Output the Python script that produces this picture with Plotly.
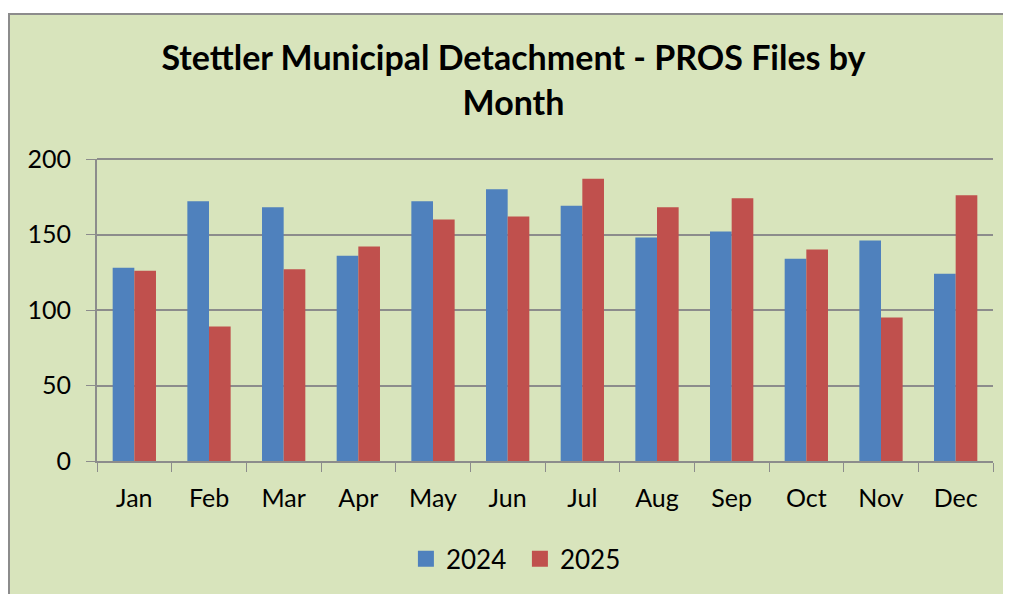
import plotly.graph_objects as go

# Monthly PROS files
MONTHS = ["Jan", "Feb", "Mar", "Apr", "May", "Jun",
          "Jul", "Aug", "Sep", "Oct", "Nov", "Dec"]
FILES_2024 = [128, 172, 168, 136, 172, 180, 169, 148, 152, 134, 146, 124]
FILES_2025 = [126, 89, 127, 142, 160, 162, 187, 168, 174, 140, 95, 176]
Y_TICKS = [0, 50, 100, 150, 200]

BLUE = "#4f81bd"
RED = "#c0504d"
FONT = "Lato"


def plot_data() -> None:
    """Grouped bar chart of PROS files by month."""
    fig = go.Figure()

    for name, values, color in [("2024", FILES_2024, BLUE), ("2025", FILES_2025, RED)]:
        fig.add_trace(go.Bar(
            x=MONTHS,
            y=values,
            name=name,
            marker=dict(color=color, line=dict(width=0)),
            showlegend=False,
        ))
        # legend entry with a bigger square swatch
        fig.add_trace(go.Scatter(
            x=[None], y=[None],
            mode="markers",
            name=name,
            marker=dict(symbol="square", size=18, color=color),
        ))

    # green chart background with grey border (plot area is 896 x 302 px)
    fig.add_shape(
        type="rect", xref="paper", yref="paper",
        x0=-88 / 896, x1=1030 / 896, y0=-170 / 302, y1=447 / 302,
        fillcolor="#d8e4bc", line=dict(color="#8c8c8c", width=2),
        layer="below",
    )

    fig.update_layout(
        title=dict(
            text="<b>Stettler Municipal Detachment - PROS Files by<br>Month</b>",
            x=0.5, xref="container", xanchor="center",
            y=0.895, yanchor="top",
            font=dict(family=FONT, size=34, color="black"),
        ),
        width=1011,
        height=594,
        margin=dict(l=89, r=26, t=151, b=141),
        paper_bgcolor="white",
        plot_bgcolor="#f2f2f2",
        font=dict(family=FONT, size=25, color="black"),
        barmode="group",
        bargap=0.42,
        bargroupgap=0,
        showlegend=True,
        legend=dict(
            orientation="h",
            x=0.472, xanchor="center",
            y=-0.2465, yanchor="top",
            font=dict(size=26),
            itemwidth=30,
            entrywidth=69,
            bgcolor="rgba(0,0,0,0)",
        ),
        xaxis=dict(
            type="category",
            tickson="boundaries",
            ticks="outside", ticklen=9, tickcolor="#8c8c8c",
            showline=True, linecolor="#8c8c8c", linewidth=2,
            showgrid=False,
            ticklabelstandoff=14,
        ),
        yaxis=dict(
            range=[0, 200],
            tickvals=Y_TICKS,
            ticks="outside", ticklen=9, tickcolor="#8c8c8c",
            showline=True, linecolor="#8c8c8c", linewidth=2,
            showgrid=True, gridcolor="#8c8c8c", gridwidth=1.5,
            zeroline=False,
            ticklabelstandoff=10,
        ),
    )

    # top border of plot area
    fig.add_shape(
        type="line", xref="paper", yref="paper",
        x0=0, x1=1, y0=1, y1=1,
        line=dict(color="#8c8c8c", width=2),
    )

    fig.write_html("out.html")


if __name__ == "__main__":
    plot_data()
